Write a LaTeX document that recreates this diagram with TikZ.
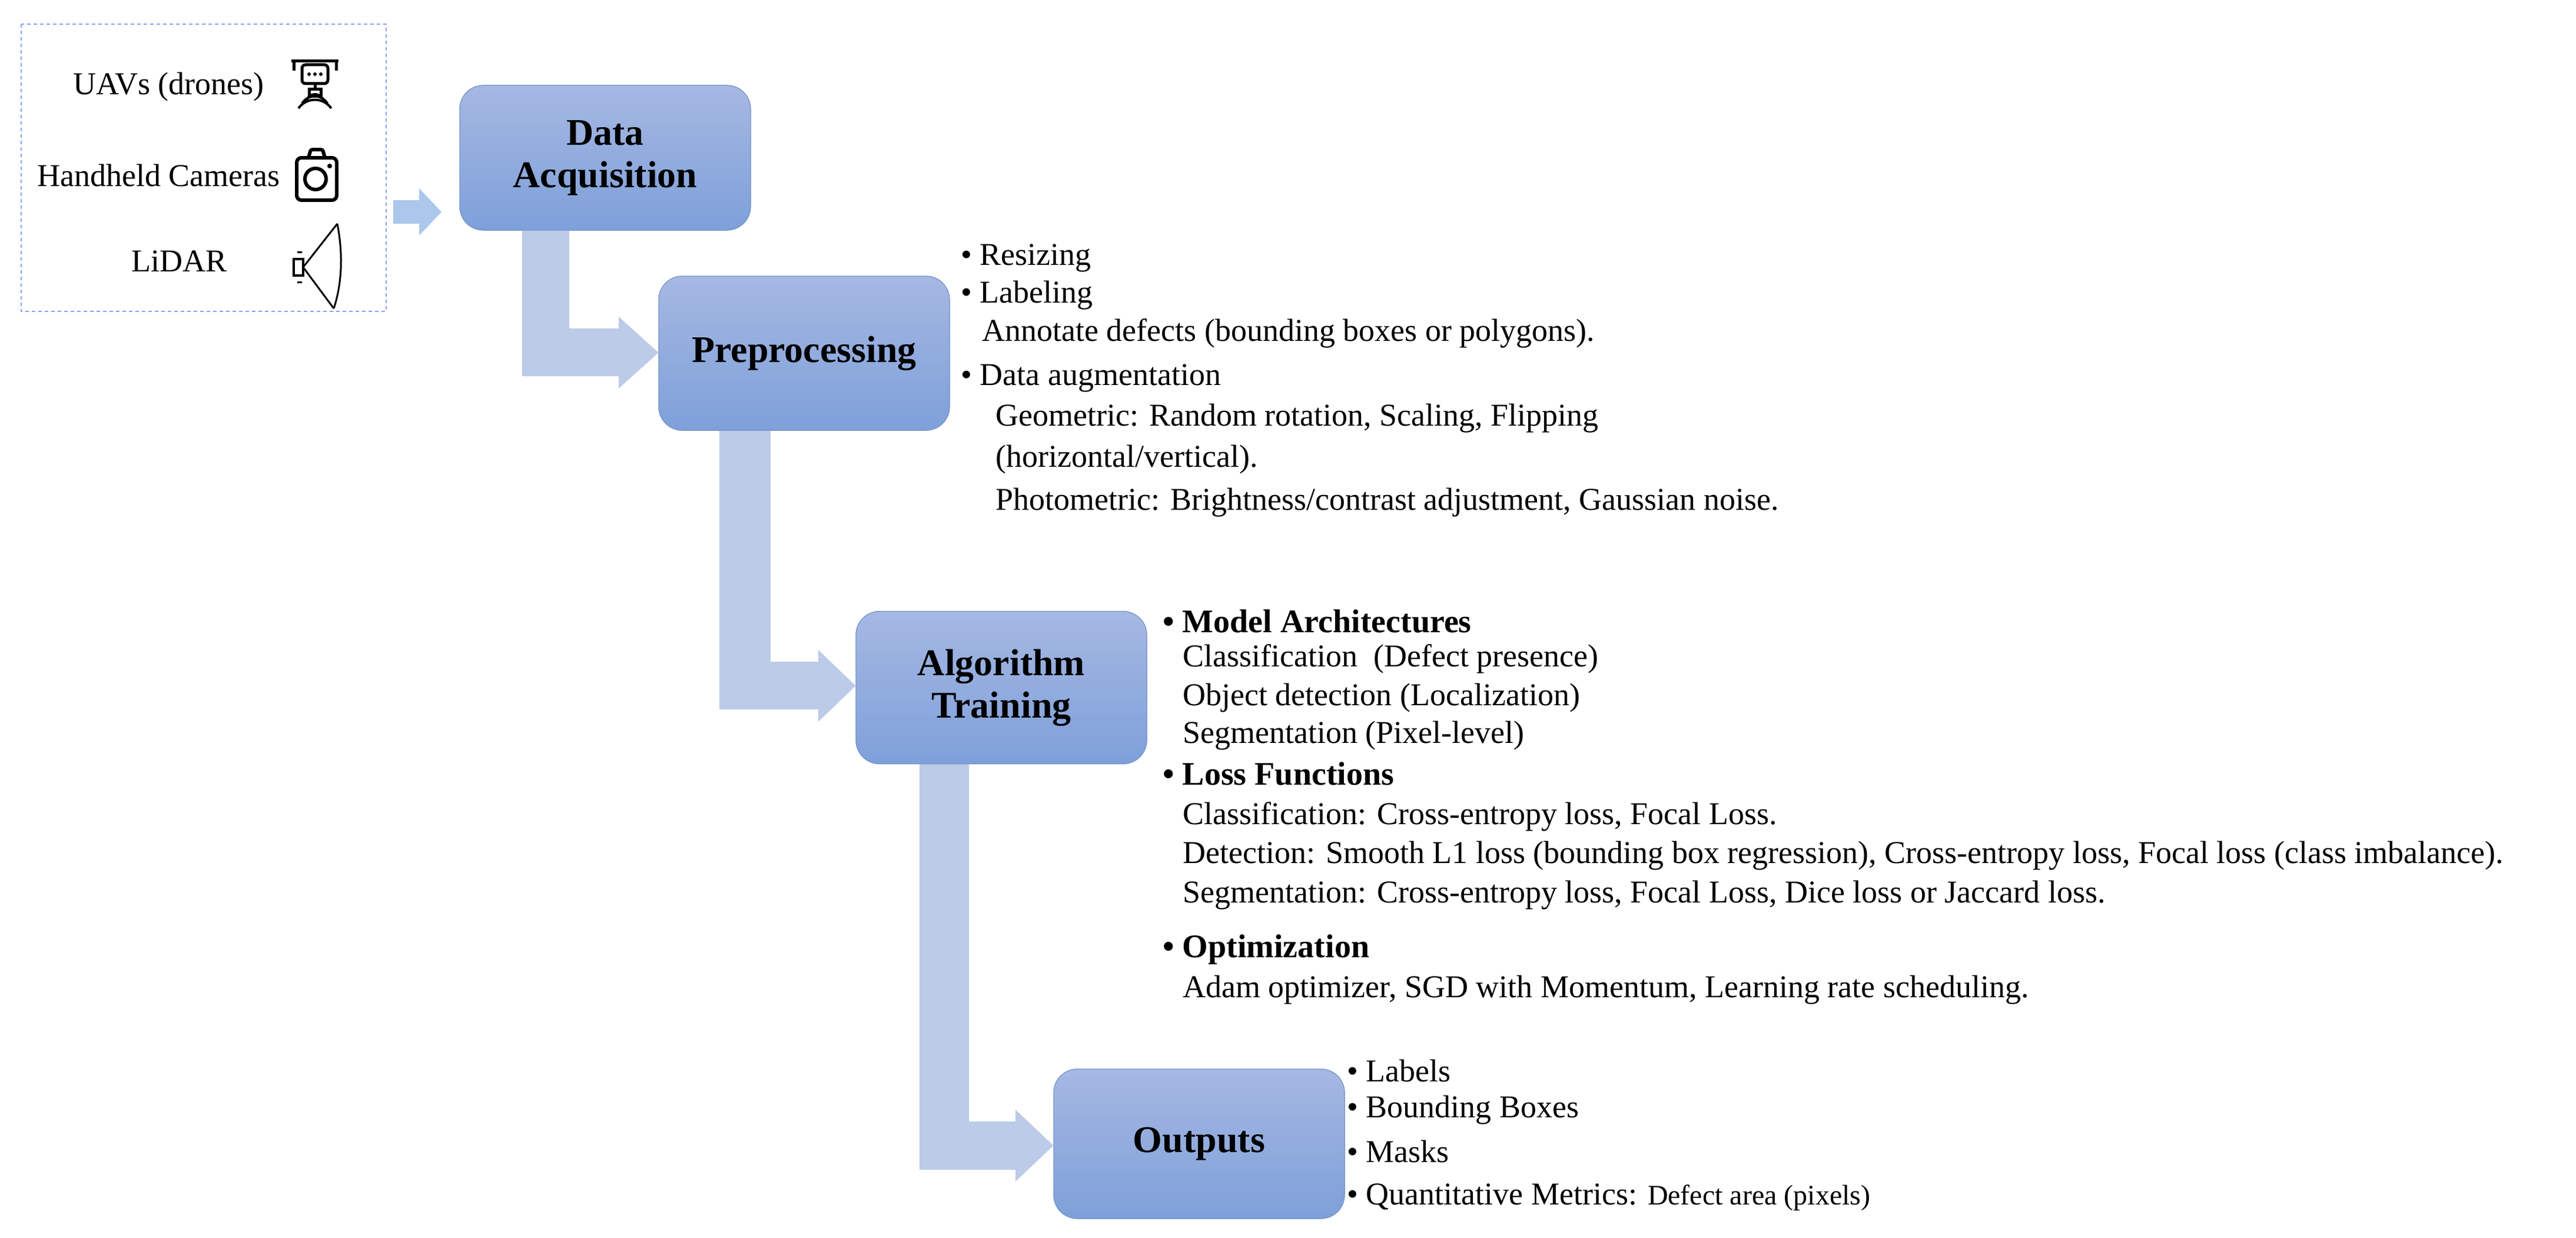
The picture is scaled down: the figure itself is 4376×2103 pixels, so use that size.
\documentclass[tikz,border=0pt]{standalone}
\usepackage{fontspec}
\setmainfont{Liberation Serif}
\begin{document}
\begin{tikzpicture}[x=1pt,y=-1pt,
  box/.style={rounded corners=40pt,top color=boxtop,bottom color=boxbot,draw=boxbot!90!black,line width=1pt,minimum width=494pt,align=center,font=\fontsize{64}{72}\selectfont\bfseries,inner sep=0pt},
  txt/.style={anchor=west,inner sep=0pt,font=\fontsize{54}{60}\selectfont},
  ico/.style={line width=6pt,black}]
\definecolor{boxtop}{HTML}{A6B8E2}
\definecolor{boxbot}{HTML}{7EA0DA}
\definecolor{arr}{HTML}{BCCBE8}
\definecolor{arr2}{HTML}{ABC8EC}
\useasboundingbox (0,0) rectangle (4376,2103);
\fill[white] (0,0) rectangle (4376,2103);
% dashed source box
\draw[dash pattern=on 6pt off 5pt,line width=2.5pt,color=arr2!80!blue] (36,41) rectangle (656,529);
\node[anchor=east,inner sep=0pt,font=\fontsize{54}{60}\selectfont] (uav) at (449,148) {UAVs (drones)};
\node[anchor=east,inner sep=0pt,font=\fontsize{54}{60}\selectfont] (cam) at (476,298) {Handheld Cameras};
\node[anchor=east,inner sep=0pt,font=\fontsize{54}{60}\selectfont] (lid) at (386,444) {LiDAR};
% drone icon
\begin{scope}[shift={(535,140)}]
\draw[ico,line width=5pt] (-40,-36) -- (40,-36);
\draw[ico,line width=5pt] (-36,-36) -- (-36,-20) (36,-36) -- (36,-20);
\draw[ico,line width=5pt,rounded corners=6pt] (-22,-30) rectangle (22,2);
\fill (-10,-14) circle (3) (0,-14) circle (3) (10,-14) circle (3);
\draw[ico,line width=5pt] (0,2) -- (0,12);
\draw[ico,line width=5pt] (-10,12) rectangle (10,24);
\draw[ico,line width=4pt] (-14,30) arc (200:340:15);
\draw[ico,line width=4pt] (-22,36) arc (210:330:25);
\draw[ico,line width=4pt] (-28,44) arc (215:325:34);
\end{scope}
% camera icon
\begin{scope}[shift={(538,300)}]
\draw[ico,rounded corners=8pt] (-34,-32) rectangle (34,40);
\draw[ico,rounded corners=3pt] (-14,-32) -- (-10,-46) -- (10,-46) -- (14,-32);
\draw[ico] (-2,4) circle (18);
\fill (22,-18) circle (4);
\end{scope}
% lidar icon
\begin{scope}[shift={(535,452)}]
\draw[ico,line width=4pt] (-36,-12) rectangle (-20,16);
\draw[ico,line width=3pt] (-20,2) -- (38,-72) (-20,2) -- (32,72);
\draw[ico,line width=3pt] (38,-72) .. controls (48,-20) and (46,30) .. (32,72);
\draw[ico,line width=3pt] (-30,-24) arc (110:70:12) (-30,28) arc (250:290:12);
\end{scope}
% boxes
\node[box,minimum height=246pt] (da) at (1028,268) {Data\\Acquisition};
\node[box,minimum height=262pt] (pre) at (1366,600) {Preprocessing};
\node[box,minimum height=259pt] (alg) at (1701,1168) {Algorithm\\Training};
\node[box,minimum height=254pt] (out) at (2037,1943) {Outputs};
% small arrow
\coordinate (s0) at (668,360);
\fill[arr2] (s0) ++(0,-20) -- (712,340) -- (712,320) -- (750,360) -- (712,400) -- (712,380) -- (668,380) -- cycle;
% elbow arrows
\fill[arr] (887,391) -- (967,391) -- (967,558) -- (1051,558) -- (1051,538) -- (pre.west |- 0,599) -- (1051,660) -- (1051,639) -- (887,639) -- cycle;
\fill[arr] (1222,731) -- (1309,731) -- (1309,1124) -- (1390,1124) -- (1390,1104) -- (alg.west |- 0,1165) -- (1390,1226) -- (1390,1205) -- (1222,1205) -- cycle;
\fill[arr] (1562,1297) -- (1646,1297) -- (1646,1905) -- (1725,1905) -- (1725,1885) -- (out.west |- 0,1946) -- (1725,2007) -- (1725,1987) -- (1562,1987) -- cycle;
\node[box,minimum height=246pt] at (da) {Data\\Acquisition};
\node[box,minimum height=262pt] at (pre) {Preprocessing};
\node[box,minimum height=259pt] at (alg) {Algorithm\\Training};
\node[box,minimum height=254pt] at (out) {Outputs};
% preprocessing text
\node[txt] (p1) at (1632,438) {• Resizing};
\node[txt] (p2) at (1632,502) {• Labeling};
\node[txt] (p3) at (1668,566) {Annotate defects (bounding boxes or polygons).};
\node[txt] (p4) at (1632,642) {• Data augmentation};
\node[txt] (p5) at (1691,711) {Geometric: Random rotation, Scaling, Flipping};
\node[txt] (p6) at (1691,781) {(horizontal/vertical).};
\node[txt] (p7) at (1691,854) {Photometric: Brightness/contrast adjustment, Gaussian noise.};
% algorithm text
\node[txt,font=\fontsize{56}{60}\selectfont\bfseries] (a1) at (1975,1055) {• Model Architectures};
\node[txt] (a2) at (2009,1119) {Classification \ (Defect presence)};
\node[txt] (a3) at (2009,1186) {Object detection (Localization)};
\node[txt] (a4) at (2009,1250) {Segmentation (Pixel-level)};
\node[txt,font=\fontsize{56}{60}\selectfont\bfseries] (a5) at (1975,1314) {• Loss Functions};
\node[txt] (a6) at (2009,1387) {Classification: Cross-entropy loss, Focal Loss.};
\node[txt] (a7) at (2009,1454) {Detection: Smooth L1 loss (bounding box regression), Cross-entropy loss, Focal loss (class imbalance).};
\node[txt] (a8) at (2009,1521) {Segmentation: Cross-entropy loss, Focal Loss, Dice loss or Jaccard loss.};
\node[txt,font=\fontsize{56}{60}\selectfont\bfseries] (a9) at (1975,1613) {• Optimization};
\node[txt] (a10) at (2009,1682) {Adam optimizer, SGD with Momentum, Learning rate scheduling.};
% outputs text
\node[txt] (o1) at (2288,1819) {• Labels};
\node[txt] (o2) at (2288,1886) {• Bounding Boxes};
\node[txt] (o3) at (2288,1956) {• Masks};
\node[txt] (o4) at (2288,2034) {• Quantitative Metrics: {\fontsize{48}{54}\selectfont Defect area (pixels)}};
\end{tikzpicture}
\end{document}
